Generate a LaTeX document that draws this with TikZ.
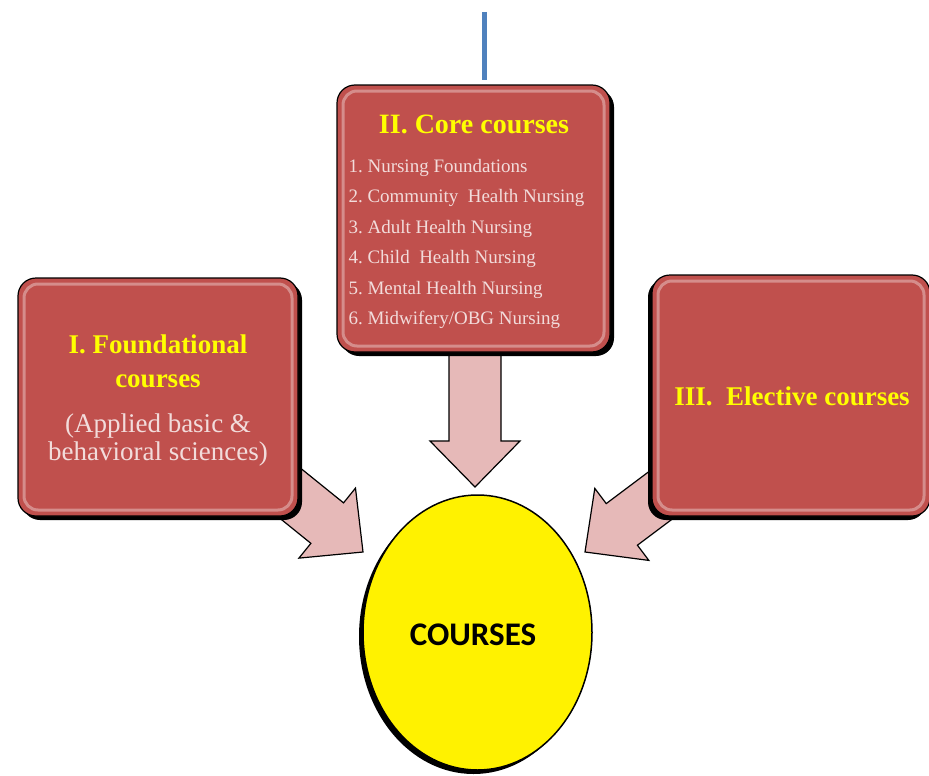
\documentclass[tikz,border=0pt]{standalone}
\usepackage{fontspec}
\setmainfont{Liberation Serif}
\newfontfamily\calibri{Carlito}
\usepackage{tikz}
\usetikzlibrary{calc}
\usetikzlibrary{shapes.geometric}
\usetikzlibrary{shadows}
\definecolor{boxred}{HTML}{C0504D}
\definecolor{arrowpink}{HTML}{E6B9B8}
\definecolor{listpink}{HTML}{F2DCDB}
\definecolor{titleyellow}{HTML}{FFFF00}
\definecolor{barblue}{HTML}{4F81BD}

\tikzset{
  shine/.style={path picture={
      \draw [white, opacity=0.35, line width=3pt, rounded corners=14pt]
        ([shift={(6pt,-6pt)}]path picture bounding box.north west) rectangle
        ([shift={(-6pt,6pt)}]path picture bounding box.south east);}},
  coursebox/.style={draw=black, line width=1.2pt, fill=boxred, rounded corners=18pt,
    inner sep=0pt, shine},
  arrowbody/.style={draw=black, line width=1.2pt, fill=arrowpink, line join=miter},
  boxtitle/.style={text=titleyellow, font=\fontsize{27}{30}\selectfont\bfseries},
  boxnote/.style={text=listpink, font=\fontsize{27}{28}\selectfont},
  listitem/.style={text=listpink, font=\fontsize{19}{21}\selectfont, anchor=base west},
}

% block arrow from #1 to the tip #2
\newcommand{\blockarrow}[2]{%
  \draw [arrowbody] let \p1=($(#2)-(#1)$), \n1={atan2(\y1,\x1)},
      \n3={veclen(\x1,\y1)-46pt} in
    ($(#1)+(\n1+90:26pt)$) -- ($(#1)+(\n1:\n3)+(\n1+90:26pt)$)
    -- ($(#1)+(\n1:\n3)+(\n1+90:45pt)$) -- (#2)
    -- ($(#1)+(\n1:\n3)+(\n1-90:45pt)$) -- ($(#1)+(\n1:\n3)+(\n1-90:26pt)$)
    -- ($(#1)+(\n1-90:26pt)$) -- cycle;
}

\begin{document}
\begin{tikzpicture}[x=1pt, y=-1pt]
  \useasboundingbox (0, 0) rectangle (929, 776);

  \coordinate (bartop) at (484, 12);
  \coordinate (barbot) at (484, 80);
  \draw [barblue, line width=5pt] (bartop) -- (barbot);

  % arrows first, the boxes cover their tails
  \coordinate (coretail) at (475, 340);
  \coordinate (coretip) at (475, 487);
  \coordinate (foundtail) at (254, 464);
  \coordinate (foundtip) at (363, 552);
  \coordinate (electail) at (697, 468);
  \coordinate (electip) at (585, 552);
  \blockarrow{coretail}{coretip}
  \blockarrow{foundtail}{foundtip}
  \blockarrow{electail}{electip}

  \node [coursebox, minimum width=273pt, minimum height=267pt,
    drop shadow={shadow xshift=4pt, shadow yshift=-4pt, fill=black, opacity=1}]
    (core) at (473.5, 218.5) {};
  \node [coursebox, minimum width=280pt, minimum height=238pt,
    drop shadow={shadow xshift=4pt, shadow yshift=-4pt, fill=black, opacity=1}]
    (found) at (158, 397) {};
  \node [coursebox, minimum width=278pt, minimum height=241pt,
    drop shadow={shadow xshift=-4pt, shadow yshift=-4pt, fill=black, opacity=1}]
    (elec) at (791, 395.5) {};

  \node [ellipse, draw=black, line width=1.5pt, fill=yellow, minimum width=229pt,
    minimum height=275pt,
    drop shadow={shadow xshift=-4pt, shadow yshift=-4pt, fill=black, opacity=1}]
    (courses) at (477.5, 632.5) {};
  \node [anchor=base, font=\calibri\bfseries\fontsize{33}{36}\selectfont]
    (coursestext) at (473, 645) {COURSES};

  \node [boxtitle, anchor=base, font=\fontsize{28}{30}\selectfont\bfseries]
    (coretitle) at (474, 133) {II.\ Core courses};
  \foreach \item [count=\i] in {1.\ Nursing Foundations,
      2.\ Community\ \ Health Nursing, 3.\ Adult Health Nursing,
      4.\ Child\ \ Health Nursing, 5.\ Mental Health Nursing,
      6.\ Midwifery/OBG Nursing}
    \node [listitem] (core\i) at (345, {172 + 30.5*(\i-1)}) {\item};

  \node [boxtitle, anchor=base] (foundtitle) at (158, 353) {I. Foundational};
  \node [boxtitle, anchor=base] (foundtitleb) at (158, 387) {courses};
  \node [boxnote, anchor=base] (foundnote) at (158, 432) {(Applied basic \&};
  \node [boxnote, anchor=base] (foundnoteb) at (158, 460) {behavioral sciences)};

  \node [boxtitle, anchor=base] (electitle) at (792, 405) {III.\ \ Elective courses};
\end{tikzpicture}
\end{document}
